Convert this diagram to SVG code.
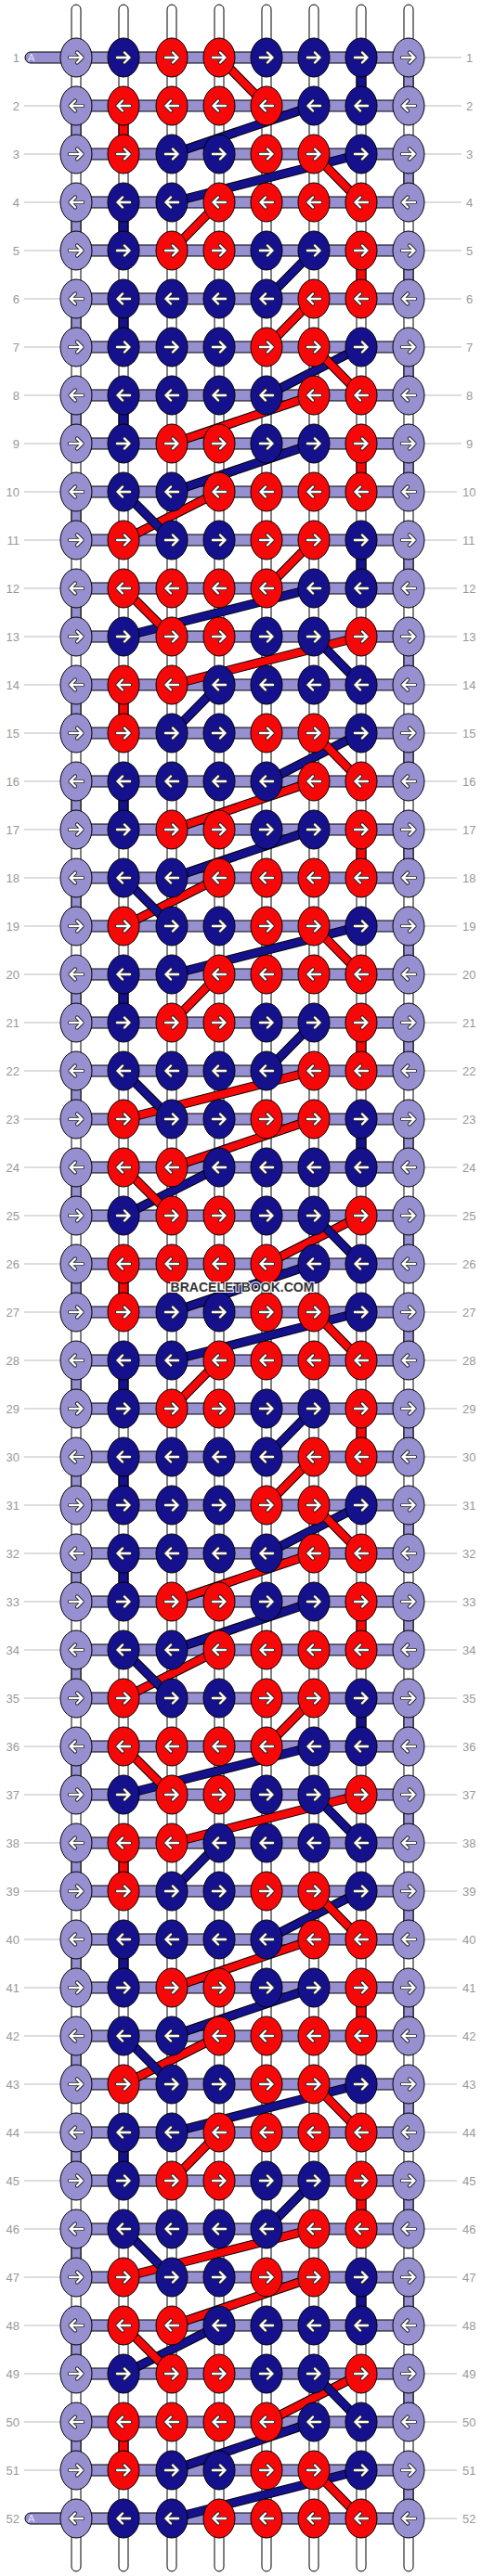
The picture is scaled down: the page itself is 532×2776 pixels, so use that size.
<svg xmlns="http://www.w3.org/2000/svg" xmlns:xlink="http://www.w3.org/1999/xlink" width="532" height="2776" viewBox="0 0 532 2776">
<style>
.st{fill:#fff;stroke:#000;stroke-width:1}
.sgs{stroke:#000;stroke-width:1}
.pL{fill:#968FD0}.pB{fill:#15118C}.pR{fill:#F70808}
.hb{fill:#968FD0;stroke:#000;stroke-width:1}
.o{stroke:#000;stroke-width:10;fill:none}
.b{stroke:#15118C;stroke-width:8;fill:none}
.r{stroke:#F70808;stroke-width:8;fill:none}
.gl{stroke:#bbb;stroke-width:1;fill:none}
.lb{font-family:"Liberation Sans",Arial,sans-serif;font-size:13px;fill:#999}
.kl{fill:#968FD0;stroke:#000;stroke-width:1}
.kb{fill:#15118C;stroke:#000;stroke-width:1}
.kr{fill:#F70808;stroke:#000;stroke-width:1}
.ao{fill:none;stroke:#222;stroke-width:4.2;stroke-linecap:round;stroke-linejoin:round}
.ai{fill:none;stroke:#fff;stroke-width:2.4;stroke-linecap:round;stroke-linejoin:round}
.wm{font-family:"Liberation Sans",Arial,sans-serif;font-size:14px;font-weight:bold;fill:#333;stroke:#fff;stroke-width:2;paint-order:stroke}
.al{font-family:"Liberation Sans",Arial,sans-serif;font-size:11px;fill:#e8e6ff}
</style>
<defs>
<path id="ar" d="M-7,0H6.5M1,-5.5L6.5,0L1,5.5"/>
<g id="aR"><use href="#ar" class="ao"/><use href="#ar" class="ai"/></g>
<g id="aL" transform="scale(-1,1)"><use href="#ar" class="ao"/><use href="#ar" class="ai"/></g>
<g id="Lr"><ellipse rx="17" ry="21" class="kl"/><use href="#aR"/></g>
<g id="Br"><ellipse rx="17" ry="21" class="kb"/><use href="#aR"/></g>
<g id="Rr"><ellipse rx="17" ry="21" class="kr"/><use href="#aR"/></g>
<g id="Ll"><ellipse rx="17" ry="21" class="kl"/><use href="#aL"/></g>
<g id="Bl"><ellipse rx="17" ry="21" class="kb"/><use href="#aL"/></g>
<g id="Rl"><ellipse rx="17" ry="21" class="kr"/><use href="#aL"/></g>
<rect id="sg" x="-5" y="0" width="10" height="16" class="sgs"/>
<rect id="hb" x="82" y="-6" width="358" height="12" class="hb"/>
</defs>

<g id="strings">
<rect class="st" x="77" y="5" width="10" height="2766" rx="5"/>
<rect class="st" x="128" y="5" width="10" height="2766" rx="5"/>
<rect class="st" x="180" y="5" width="10" height="2766" rx="5"/>
<rect class="st" x="231" y="5" width="10" height="2766" rx="5"/>
<rect class="st" x="282" y="5" width="10" height="2766" rx="5"/>
<rect class="st" x="333" y="5" width="10" height="2766" rx="5"/>
<rect class="st" x="384" y="5" width="10" height="2766" rx="5"/>
<rect class="st" x="435" y="5" width="10" height="2766" rx="5"/>
</g>

<g id="segments">
<use href="#sg" class="pL" x="82" y="132"/><use href="#sg" class="pL" x="82" y="236"/><use href="#sg" class="pL" x="82" y="340"/><use href="#sg" class="pL" x="82" y="444"/><use href="#sg" class="pL" x="82" y="548"/><use href="#sg" class="pL" x="82" y="652"/><use href="#sg" class="pL" x="82" y="756"/><use href="#sg" class="pL" x="82" y="860"/><use href="#sg" class="pL" x="82" y="964"/><use href="#sg" class="pL" x="82" y="1068"/><use href="#sg" class="pL" x="82" y="1172"/><use href="#sg" class="pL" x="82" y="1276"/><use href="#sg" class="pL" x="82" y="1380"/><use href="#sg" class="pL" x="82" y="1484"/><use href="#sg" class="pL" x="82" y="1588"/><use href="#sg" class="pL" x="82" y="1692"/><use href="#sg" class="pL" x="82" y="1796"/><use href="#sg" class="pL" x="82" y="1900"/><use href="#sg" class="pL" x="82" y="2004"/><use href="#sg" class="pL" x="82" y="2108"/><use href="#sg" class="pL" x="82" y="2212"/><use href="#sg" class="pL" x="82" y="2316"/><use href="#sg" class="pL" x="82" y="2420"/><use href="#sg" class="pL" x="82" y="2524"/><use href="#sg" class="pL" x="82" y="2628"/>
<use href="#sg" class="pL" x="440" y="80"/><use href="#sg" class="pL" x="440" y="184"/><use href="#sg" class="pL" x="440" y="288"/><use href="#sg" class="pL" x="440" y="392"/><use href="#sg" class="pL" x="440" y="496"/><use href="#sg" class="pL" x="440" y="600"/><use href="#sg" class="pL" x="440" y="704"/><use href="#sg" class="pL" x="440" y="808"/><use href="#sg" class="pL" x="440" y="912"/><use href="#sg" class="pL" x="440" y="1016"/><use href="#sg" class="pL" x="440" y="1120"/><use href="#sg" class="pL" x="440" y="1224"/><use href="#sg" class="pL" x="440" y="1328"/><use href="#sg" class="pL" x="440" y="1432"/><use href="#sg" class="pL" x="440" y="1536"/><use href="#sg" class="pL" x="440" y="1640"/><use href="#sg" class="pL" x="440" y="1744"/><use href="#sg" class="pL" x="440" y="1848"/><use href="#sg" class="pL" x="440" y="1952"/><use href="#sg" class="pL" x="440" y="2056"/><use href="#sg" class="pL" x="440" y="2160"/><use href="#sg" class="pL" x="440" y="2264"/><use href="#sg" class="pL" x="440" y="2368"/><use href="#sg" class="pL" x="440" y="2472"/><use href="#sg" class="pL" x="440" y="2576"/><use href="#sg" class="pL" x="440" y="2680"/>
<use href="#sg" class="pR" x="133" y="132"/><use href="#sg" class="pB" x="133" y="236"/><use href="#sg" class="pB" x="133" y="340"/><use href="#sg" class="pB" x="133" y="444"/><use href="#sg" class="pR" x="133" y="756"/><use href="#sg" class="pB" x="133" y="860"/><use href="#sg" class="pB" x="133" y="1068"/><use href="#sg" class="pR" x="133" y="1380"/><use href="#sg" class="pB" x="133" y="1484"/><use href="#sg" class="pB" x="133" y="1588"/><use href="#sg" class="pB" x="133" y="1692"/><use href="#sg" class="pR" x="133" y="2004"/><use href="#sg" class="pB" x="133" y="2108"/><use href="#sg" class="pB" x="133" y="2316"/><use href="#sg" class="pR" x="133" y="2628"/>
<use href="#sg" class="pB" x="389" y="80"/><use href="#sg" class="pR" x="389" y="288"/><use href="#sg" class="pR" x="389" y="496"/><use href="#sg" class="pB" x="389" y="600"/><use href="#sg" class="pR" x="389" y="912"/><use href="#sg" class="pR" x="389" y="1120"/><use href="#sg" class="pB" x="389" y="1224"/><use href="#sg" class="pR" x="389" y="1536"/><use href="#sg" class="pR" x="389" y="1744"/><use href="#sg" class="pB" x="389" y="1848"/><use href="#sg" class="pR" x="389" y="2160"/><use href="#sg" class="pR" x="389" y="2368"/><use href="#sg" class="pB" x="389" y="2472"/>
</g>

<g id="guides">
<path class="gl" d="M26,114H65M26,166H65M26,218H65M26,270H65M26,322H65M26,374H65M26,426H65M26,478H65M26,530H65M26,582H65M26,634H65M26,686H65M26,738H65M26,790H65M26,842H65M26,894H65M26,946H65M26,998H65M26,1050H65M26,1102H65M26,1154H65M26,1206H65M26,1258H65M26,1310H65M26,1362H65M26,1414H65M26,1466H65M26,1518H65M26,1570H65M26,1622H65M26,1674H65M26,1726H65M26,1778H65M26,1830H65M26,1882H65M26,1934H65M26,1986H65M26,2038H65M26,2090H65M26,2142H65M26,2194H65M26,2246H65M26,2298H65M26,2350H65M26,2402H65M26,2454H65M26,2506H65M26,2558H65M26,2610H65M26,2662H65"/>
<path class="gl" d="M457,62H497M457,114H497M457,166H497M457,218H497M457,270H497M457,322H497M457,374H497M457,426H497M457,478H497M457,530H492M457,582H492M457,634H492M457,686H492M457,738H492M457,790H492M457,842H492M457,894H492M457,946H492M457,998H492M457,1050H492M457,1102H492M457,1154H492M457,1206H492M457,1258H492M457,1310H492M457,1362H492M457,1414H492M457,1466H492M457,1518H492M457,1570H492M457,1622H492M457,1674H492M457,1726H492M457,1778H492M457,1830H492M457,1882H492M457,1934H492M457,1986H492M457,2038H492M457,2090H492M457,2142H492M457,2194H492M457,2246H492M457,2298H492M457,2350H492M457,2402H492M457,2454H492M457,2506H492M457,2558H492M457,2610H492M457,2662H492M457,2714H492"/>
</g>

<g id="carrier">
<rect x="27" y="56" width="413" height="12" rx="6" class="hb"/>
<use href="#hb" y="114"/><use href="#hb" y="166"/><use href="#hb" y="218"/><use href="#hb" y="270"/><use href="#hb" y="322"/><use href="#hb" y="374"/><use href="#hb" y="426"/><use href="#hb" y="478"/><use href="#hb" y="530"/><use href="#hb" y="582"/><use href="#hb" y="634"/><use href="#hb" y="686"/><use href="#hb" y="738"/><use href="#hb" y="790"/><use href="#hb" y="842"/><use href="#hb" y="894"/><use href="#hb" y="946"/><use href="#hb" y="998"/><use href="#hb" y="1050"/><use href="#hb" y="1102"/><use href="#hb" y="1154"/><use href="#hb" y="1206"/><use href="#hb" y="1258"/><use href="#hb" y="1310"/><use href="#hb" y="1362"/><use href="#hb" y="1414"/><use href="#hb" y="1466"/><use href="#hb" y="1518"/><use href="#hb" y="1570"/><use href="#hb" y="1622"/><use href="#hb" y="1674"/><use href="#hb" y="1726"/><use href="#hb" y="1778"/><use href="#hb" y="1830"/><use href="#hb" y="1882"/><use href="#hb" y="1934"/><use href="#hb" y="1986"/><use href="#hb" y="2038"/><use href="#hb" y="2090"/><use href="#hb" y="2142"/><use href="#hb" y="2194"/><use href="#hb" y="2246"/><use href="#hb" y="2298"/><use href="#hb" y="2350"/><use href="#hb" y="2402"/><use href="#hb" y="2454"/><use href="#hb" y="2506"/><use href="#hb" y="2558"/><use href="#hb" y="2610"/><use href="#hb" y="2662"/>
<rect x="27" y="2708" width="413" height="12" rx="6" class="hb"/>
<text class="al" x="30" y="66">A</text>
<text class="al" x="30" y="2718">A</text>
</g>

<g id="connectors">
<path class="o" d="M236,62L287,114"/><path class="r" d="M236,62L287,114"/>
<path class="o" d="M338,114L185,166"/><path class="b" d="M338,114L185,166"/>
<path class="o" d="M389,166L185,218"/><path class="b" d="M389,166L185,218"/>
<path class="o" d="M338,166L389,218"/><path class="r" d="M338,166L389,218"/>
<path class="o" d="M236,218L185,270"/><path class="r" d="M236,218L185,270"/>
<path class="o" d="M338,270L287,322"/><path class="b" d="M338,270L287,322"/>
<path class="o" d="M338,322L287,374"/><path class="r" d="M338,322L287,374"/>
<path class="o" d="M389,374L287,426"/><path class="b" d="M389,374L287,426"/>
<path class="o" d="M338,374L389,426"/><path class="r" d="M338,374L389,426"/>
<path class="o" d="M338,426L185,478"/><path class="r" d="M338,426L185,478"/>
<path class="o" d="M338,478L185,530"/><path class="b" d="M338,478L185,530"/>
<path class="o" d="M236,530L133,582"/><path class="r" d="M236,530L133,582"/>
<path class="o" d="M133,530L185,582"/><path class="b" d="M133,530L185,582"/>
<path class="o" d="M338,582L287,634"/><path class="r" d="M338,582L287,634"/>
<path class="o" d="M338,634L133,686"/><path class="b" d="M338,634L133,686"/>
<path class="o" d="M133,634L185,686"/><path class="r" d="M133,634L185,686"/>
<path class="o" d="M389,686L185,738"/><path class="r" d="M389,686L185,738"/>
<path class="o" d="M338,686L389,738"/><path class="b" d="M338,686L389,738"/>
<path class="o" d="M236,738L185,790"/><path class="b" d="M236,738L185,790"/>
<path class="o" d="M389,790L287,842"/><path class="b" d="M389,790L287,842"/>
<path class="o" d="M338,790L389,842"/><path class="r" d="M338,790L389,842"/>
<path class="o" d="M338,842L185,894"/><path class="r" d="M338,842L185,894"/>
<path class="o" d="M338,894L185,946"/><path class="b" d="M338,894L185,946"/>
<path class="o" d="M236,946L133,998"/><path class="r" d="M236,946L133,998"/>
<path class="o" d="M133,946L185,998"/><path class="b" d="M133,946L185,998"/>
<path class="o" d="M389,998L185,1050"/><path class="b" d="M389,998L185,1050"/>
<path class="o" d="M338,998L389,1050"/><path class="r" d="M338,998L389,1050"/>
<path class="o" d="M236,1050L185,1102"/><path class="r" d="M236,1050L185,1102"/>
<path class="o" d="M338,1102L287,1154"/><path class="b" d="M338,1102L287,1154"/>
<path class="o" d="M338,1154L133,1206"/><path class="r" d="M338,1154L133,1206"/>
<path class="o" d="M133,1154L185,1206"/><path class="b" d="M133,1154L185,1206"/>
<path class="o" d="M338,1206L185,1258"/><path class="r" d="M338,1206L185,1258"/>
<path class="o" d="M236,1258L133,1310"/><path class="b" d="M236,1258L133,1310"/>
<path class="o" d="M133,1258L185,1310"/><path class="r" d="M133,1258L185,1310"/>
<path class="o" d="M389,1310L287,1362"/><path class="r" d="M389,1310L287,1362"/>
<path class="o" d="M338,1310L389,1362"/><path class="b" d="M338,1310L389,1362"/>
<path class="o" d="M338,1362L185,1414"/><path class="b" d="M338,1362L185,1414"/>
<path class="o" d="M389,1414L185,1466"/><path class="b" d="M389,1414L185,1466"/>
<path class="o" d="M338,1414L389,1466"/><path class="r" d="M338,1414L389,1466"/>
<path class="o" d="M236,1466L185,1518"/><path class="r" d="M236,1466L185,1518"/>
<path class="o" d="M338,1518L287,1570"/><path class="b" d="M338,1518L287,1570"/>
<path class="o" d="M338,1570L287,1622"/><path class="r" d="M338,1570L287,1622"/>
<path class="o" d="M389,1622L287,1674"/><path class="b" d="M389,1622L287,1674"/>
<path class="o" d="M338,1622L389,1674"/><path class="r" d="M338,1622L389,1674"/>
<path class="o" d="M338,1674L185,1726"/><path class="r" d="M338,1674L185,1726"/>
<path class="o" d="M338,1726L185,1778"/><path class="b" d="M338,1726L185,1778"/>
<path class="o" d="M236,1778L133,1830"/><path class="r" d="M236,1778L133,1830"/>
<path class="o" d="M133,1778L185,1830"/><path class="b" d="M133,1778L185,1830"/>
<path class="o" d="M338,1830L287,1882"/><path class="r" d="M338,1830L287,1882"/>
<path class="o" d="M338,1882L133,1934"/><path class="b" d="M338,1882L133,1934"/>
<path class="o" d="M133,1882L185,1934"/><path class="r" d="M133,1882L185,1934"/>
<path class="o" d="M389,1934L185,1986"/><path class="r" d="M389,1934L185,1986"/>
<path class="o" d="M338,1934L389,1986"/><path class="b" d="M338,1934L389,1986"/>
<path class="o" d="M236,1986L185,2038"/><path class="b" d="M236,1986L185,2038"/>
<path class="o" d="M389,2038L287,2090"/><path class="b" d="M389,2038L287,2090"/>
<path class="o" d="M338,2038L389,2090"/><path class="r" d="M338,2038L389,2090"/>
<path class="o" d="M338,2090L185,2142"/><path class="r" d="M338,2090L185,2142"/>
<path class="o" d="M338,2142L185,2194"/><path class="b" d="M338,2142L185,2194"/>
<path class="o" d="M236,2194L133,2246"/><path class="r" d="M236,2194L133,2246"/>
<path class="o" d="M133,2194L185,2246"/><path class="b" d="M133,2194L185,2246"/>
<path class="o" d="M389,2246L185,2298"/><path class="b" d="M389,2246L185,2298"/>
<path class="o" d="M338,2246L389,2298"/><path class="r" d="M338,2246L389,2298"/>
<path class="o" d="M236,2298L185,2350"/><path class="r" d="M236,2298L185,2350"/>
<path class="o" d="M338,2350L287,2402"/><path class="b" d="M338,2350L287,2402"/>
<path class="o" d="M338,2402L133,2454"/><path class="r" d="M338,2402L133,2454"/>
<path class="o" d="M133,2402L185,2454"/><path class="b" d="M133,2402L185,2454"/>
<path class="o" d="M338,2454L185,2506"/><path class="r" d="M338,2454L185,2506"/>
<path class="o" d="M236,2506L133,2558"/><path class="b" d="M236,2506L133,2558"/>
<path class="o" d="M133,2506L185,2558"/><path class="r" d="M133,2506L185,2558"/>
<path class="o" d="M389,2558L287,2610"/><path class="r" d="M389,2558L287,2610"/>
<path class="o" d="M338,2558L389,2610"/><path class="b" d="M338,2558L389,2610"/>
<path class="o" d="M338,2610L185,2662"/><path class="b" d="M338,2610L185,2662"/>
<path class="o" d="M389,2662L185,2714"/><path class="b" d="M389,2662L185,2714"/>
<path class="o" d="M338,2662L389,2714"/><path class="r" d="M338,2662L389,2714"/>
</g>

<g id="knots">
<g id="row1" transform="translate(0,62)"><use id="k1_0" href="#Lr" x="82"/><use id="k1_1" href="#Br" x="133"/><use id="k1_2" href="#Rr" x="185"/><use id="k1_3" href="#Rr" x="236"/><use id="k1_4" href="#Br" x="287"/><use id="k1_5" href="#Br" x="338"/><use id="k1_6" href="#Br" x="389"/><use id="k1_7" href="#Lr" x="440"/></g>
<g id="row2" transform="translate(0,114)"><use id="k2_0" href="#Ll" x="82"/><use id="k2_1" href="#Rl" x="133"/><use id="k2_2" href="#Rl" x="185"/><use id="k2_3" href="#Rl" x="236"/><use id="k2_4" href="#Rl" x="287"/><use id="k2_5" href="#Bl" x="338"/><use id="k2_6" href="#Bl" x="389"/><use id="k2_7" href="#Ll" x="440"/></g>
<g id="row3" transform="translate(0,166)"><use id="k3_0" href="#Lr" x="82"/><use id="k3_1" href="#Rr" x="133"/><use id="k3_2" href="#Br" x="185"/><use id="k3_3" href="#Br" x="236"/><use id="k3_4" href="#Rr" x="287"/><use id="k3_5" href="#Rr" x="338"/><use id="k3_6" href="#Br" x="389"/><use id="k3_7" href="#Lr" x="440"/></g>
<g id="row4" transform="translate(0,218)"><use id="k4_0" href="#Ll" x="82"/><use id="k4_1" href="#Bl" x="133"/><use id="k4_2" href="#Bl" x="185"/><use id="k4_3" href="#Rl" x="236"/><use id="k4_4" href="#Rl" x="287"/><use id="k4_5" href="#Rl" x="338"/><use id="k4_6" href="#Rl" x="389"/><use id="k4_7" href="#Ll" x="440"/></g>
<g id="row5" transform="translate(0,270)"><use id="k5_0" href="#Lr" x="82"/><use id="k5_1" href="#Br" x="133"/><use id="k5_2" href="#Rr" x="185"/><use id="k5_3" href="#Rr" x="236"/><use id="k5_4" href="#Br" x="287"/><use id="k5_5" href="#Br" x="338"/><use id="k5_6" href="#Rr" x="389"/><use id="k5_7" href="#Lr" x="440"/></g>
<g id="row6" transform="translate(0,322)"><use id="k6_0" href="#Ll" x="82"/><use id="k6_1" href="#Bl" x="133"/><use id="k6_2" href="#Bl" x="185"/><use id="k6_3" href="#Bl" x="236"/><use id="k6_4" href="#Bl" x="287"/><use id="k6_5" href="#Rl" x="338"/><use id="k6_6" href="#Rl" x="389"/><use id="k6_7" href="#Ll" x="440"/></g>
<g id="row7" transform="translate(0,374)"><use id="k7_0" href="#Lr" x="82"/><use id="k7_1" href="#Br" x="133"/><use id="k7_2" href="#Br" x="185"/><use id="k7_3" href="#Br" x="236"/><use id="k7_4" href="#Rr" x="287"/><use id="k7_5" href="#Rr" x="338"/><use id="k7_6" href="#Br" x="389"/><use id="k7_7" href="#Lr" x="440"/></g>
<g id="row8" transform="translate(0,426)"><use id="k8_0" href="#Ll" x="82"/><use id="k8_1" href="#Bl" x="133"/><use id="k8_2" href="#Bl" x="185"/><use id="k8_3" href="#Bl" x="236"/><use id="k8_4" href="#Bl" x="287"/><use id="k8_5" href="#Rl" x="338"/><use id="k8_6" href="#Rl" x="389"/><use id="k8_7" href="#Ll" x="440"/></g>
<g id="row9" transform="translate(0,478)"><use id="k9_0" href="#Lr" x="82"/><use id="k9_1" href="#Br" x="133"/><use id="k9_2" href="#Rr" x="185"/><use id="k9_3" href="#Rr" x="236"/><use id="k9_4" href="#Br" x="287"/><use id="k9_5" href="#Br" x="338"/><use id="k9_6" href="#Rr" x="389"/><use id="k9_7" href="#Lr" x="440"/></g>
<g id="row10" transform="translate(0,530)"><use id="k10_0" href="#Ll" x="82"/><use id="k10_1" href="#Bl" x="133"/><use id="k10_2" href="#Bl" x="185"/><use id="k10_3" href="#Rl" x="236"/><use id="k10_4" href="#Rl" x="287"/><use id="k10_5" href="#Rl" x="338"/><use id="k10_6" href="#Rl" x="389"/><use id="k10_7" href="#Ll" x="440"/></g>
<g id="row11" transform="translate(0,582)"><use id="k11_0" href="#Lr" x="82"/><use id="k11_1" href="#Rr" x="133"/><use id="k11_2" href="#Br" x="185"/><use id="k11_3" href="#Br" x="236"/><use id="k11_4" href="#Rr" x="287"/><use id="k11_5" href="#Rr" x="338"/><use id="k11_6" href="#Br" x="389"/><use id="k11_7" href="#Lr" x="440"/></g>
<g id="row12" transform="translate(0,634)"><use id="k12_0" href="#Ll" x="82"/><use id="k12_1" href="#Rl" x="133"/><use id="k12_2" href="#Rl" x="185"/><use id="k12_3" href="#Rl" x="236"/><use id="k12_4" href="#Rl" x="287"/><use id="k12_5" href="#Bl" x="338"/><use id="k12_6" href="#Bl" x="389"/><use id="k12_7" href="#Ll" x="440"/></g>
<g id="row13" transform="translate(0,686)"><use id="k13_0" href="#Lr" x="82"/><use id="k13_1" href="#Br" x="133"/><use id="k13_2" href="#Rr" x="185"/><use id="k13_3" href="#Rr" x="236"/><use id="k13_4" href="#Br" x="287"/><use id="k13_5" href="#Br" x="338"/><use id="k13_6" href="#Rr" x="389"/><use id="k13_7" href="#Lr" x="440"/></g>
<g id="row14" transform="translate(0,738)"><use id="k14_0" href="#Ll" x="82"/><use id="k14_1" href="#Rl" x="133"/><use id="k14_2" href="#Rl" x="185"/><use id="k14_3" href="#Bl" x="236"/><use id="k14_4" href="#Bl" x="287"/><use id="k14_5" href="#Bl" x="338"/><use id="k14_6" href="#Bl" x="389"/><use id="k14_7" href="#Ll" x="440"/></g>
<g id="row15" transform="translate(0,790)"><use id="k15_0" href="#Lr" x="82"/><use id="k15_1" href="#Rr" x="133"/><use id="k15_2" href="#Br" x="185"/><use id="k15_3" href="#Br" x="236"/><use id="k15_4" href="#Rr" x="287"/><use id="k15_5" href="#Rr" x="338"/><use id="k15_6" href="#Br" x="389"/><use id="k15_7" href="#Lr" x="440"/></g>
<g id="row16" transform="translate(0,842)"><use id="k16_0" href="#Ll" x="82"/><use id="k16_1" href="#Bl" x="133"/><use id="k16_2" href="#Bl" x="185"/><use id="k16_3" href="#Bl" x="236"/><use id="k16_4" href="#Bl" x="287"/><use id="k16_5" href="#Rl" x="338"/><use id="k16_6" href="#Rl" x="389"/><use id="k16_7" href="#Ll" x="440"/></g>
<g id="row17" transform="translate(0,894)"><use id="k17_0" href="#Lr" x="82"/><use id="k17_1" href="#Br" x="133"/><use id="k17_2" href="#Rr" x="185"/><use id="k17_3" href="#Rr" x="236"/><use id="k17_4" href="#Br" x="287"/><use id="k17_5" href="#Br" x="338"/><use id="k17_6" href="#Rr" x="389"/><use id="k17_7" href="#Lr" x="440"/></g>
<g id="row18" transform="translate(0,946)"><use id="k18_0" href="#Ll" x="82"/><use id="k18_1" href="#Bl" x="133"/><use id="k18_2" href="#Bl" x="185"/><use id="k18_3" href="#Rl" x="236"/><use id="k18_4" href="#Rl" x="287"/><use id="k18_5" href="#Rl" x="338"/><use id="k18_6" href="#Rl" x="389"/><use id="k18_7" href="#Ll" x="440"/></g>
<g id="row19" transform="translate(0,998)"><use id="k19_0" href="#Lr" x="82"/><use id="k19_1" href="#Rr" x="133"/><use id="k19_2" href="#Br" x="185"/><use id="k19_3" href="#Br" x="236"/><use id="k19_4" href="#Rr" x="287"/><use id="k19_5" href="#Rr" x="338"/><use id="k19_6" href="#Br" x="389"/><use id="k19_7" href="#Lr" x="440"/></g>
<g id="row20" transform="translate(0,1050)"><use id="k20_0" href="#Ll" x="82"/><use id="k20_1" href="#Bl" x="133"/><use id="k20_2" href="#Bl" x="185"/><use id="k20_3" href="#Rl" x="236"/><use id="k20_4" href="#Rl" x="287"/><use id="k20_5" href="#Rl" x="338"/><use id="k20_6" href="#Rl" x="389"/><use id="k20_7" href="#Ll" x="440"/></g>
<g id="row21" transform="translate(0,1102)"><use id="k21_0" href="#Lr" x="82"/><use id="k21_1" href="#Br" x="133"/><use id="k21_2" href="#Rr" x="185"/><use id="k21_3" href="#Rr" x="236"/><use id="k21_4" href="#Br" x="287"/><use id="k21_5" href="#Br" x="338"/><use id="k21_6" href="#Rr" x="389"/><use id="k21_7" href="#Lr" x="440"/></g>
<g id="row22" transform="translate(0,1154)"><use id="k22_0" href="#Ll" x="82"/><use id="k22_1" href="#Bl" x="133"/><use id="k22_2" href="#Bl" x="185"/><use id="k22_3" href="#Bl" x="236"/><use id="k22_4" href="#Bl" x="287"/><use id="k22_5" href="#Rl" x="338"/><use id="k22_6" href="#Rl" x="389"/><use id="k22_7" href="#Ll" x="440"/></g>
<g id="row23" transform="translate(0,1206)"><use id="k23_0" href="#Lr" x="82"/><use id="k23_1" href="#Rr" x="133"/><use id="k23_2" href="#Br" x="185"/><use id="k23_3" href="#Br" x="236"/><use id="k23_4" href="#Rr" x="287"/><use id="k23_5" href="#Rr" x="338"/><use id="k23_6" href="#Br" x="389"/><use id="k23_7" href="#Lr" x="440"/></g>
<g id="row24" transform="translate(0,1258)"><use id="k24_0" href="#Ll" x="82"/><use id="k24_1" href="#Rl" x="133"/><use id="k24_2" href="#Rl" x="185"/><use id="k24_3" href="#Bl" x="236"/><use id="k24_4" href="#Bl" x="287"/><use id="k24_5" href="#Bl" x="338"/><use id="k24_6" href="#Bl" x="389"/><use id="k24_7" href="#Ll" x="440"/></g>
<g id="row25" transform="translate(0,1310)"><use id="k25_0" href="#Lr" x="82"/><use id="k25_1" href="#Br" x="133"/><use id="k25_2" href="#Rr" x="185"/><use id="k25_3" href="#Rr" x="236"/><use id="k25_4" href="#Br" x="287"/><use id="k25_5" href="#Br" x="338"/><use id="k25_6" href="#Rr" x="389"/><use id="k25_7" href="#Lr" x="440"/></g>
<g id="row26" transform="translate(0,1362)"><use id="k26_0" href="#Ll" x="82"/><use id="k26_1" href="#Rl" x="133"/><use id="k26_2" href="#Rl" x="185"/><use id="k26_3" href="#Rl" x="236"/><use id="k26_4" href="#Rl" x="287"/><use id="k26_5" href="#Bl" x="338"/><use id="k26_6" href="#Bl" x="389"/><use id="k26_7" href="#Ll" x="440"/></g>
<g id="row27" transform="translate(0,1414)"><use id="k27_0" href="#Lr" x="82"/><use id="k27_1" href="#Rr" x="133"/><use id="k27_2" href="#Br" x="185"/><use id="k27_3" href="#Br" x="236"/><use id="k27_4" href="#Rr" x="287"/><use id="k27_5" href="#Rr" x="338"/><use id="k27_6" href="#Br" x="389"/><use id="k27_7" href="#Lr" x="440"/></g>
<g id="row28" transform="translate(0,1466)"><use id="k28_0" href="#Ll" x="82"/><use id="k28_1" href="#Bl" x="133"/><use id="k28_2" href="#Bl" x="185"/><use id="k28_3" href="#Rl" x="236"/><use id="k28_4" href="#Rl" x="287"/><use id="k28_5" href="#Rl" x="338"/><use id="k28_6" href="#Rl" x="389"/><use id="k28_7" href="#Ll" x="440"/></g>
<g id="row29" transform="translate(0,1518)"><use id="k29_0" href="#Lr" x="82"/><use id="k29_1" href="#Br" x="133"/><use id="k29_2" href="#Rr" x="185"/><use id="k29_3" href="#Rr" x="236"/><use id="k29_4" href="#Br" x="287"/><use id="k29_5" href="#Br" x="338"/><use id="k29_6" href="#Rr" x="389"/><use id="k29_7" href="#Lr" x="440"/></g>
<g id="row30" transform="translate(0,1570)"><use id="k30_0" href="#Ll" x="82"/><use id="k30_1" href="#Bl" x="133"/><use id="k30_2" href="#Bl" x="185"/><use id="k30_3" href="#Bl" x="236"/><use id="k30_4" href="#Bl" x="287"/><use id="k30_5" href="#Rl" x="338"/><use id="k30_6" href="#Rl" x="389"/><use id="k30_7" href="#Ll" x="440"/></g>
<g id="row31" transform="translate(0,1622)"><use id="k31_0" href="#Lr" x="82"/><use id="k31_1" href="#Br" x="133"/><use id="k31_2" href="#Br" x="185"/><use id="k31_3" href="#Br" x="236"/><use id="k31_4" href="#Rr" x="287"/><use id="k31_5" href="#Rr" x="338"/><use id="k31_6" href="#Br" x="389"/><use id="k31_7" href="#Lr" x="440"/></g>
<g id="row32" transform="translate(0,1674)"><use id="k32_0" href="#Ll" x="82"/><use id="k32_1" href="#Bl" x="133"/><use id="k32_2" href="#Bl" x="185"/><use id="k32_3" href="#Bl" x="236"/><use id="k32_4" href="#Bl" x="287"/><use id="k32_5" href="#Rl" x="338"/><use id="k32_6" href="#Rl" x="389"/><use id="k32_7" href="#Ll" x="440"/></g>
<g id="row33" transform="translate(0,1726)"><use id="k33_0" href="#Lr" x="82"/><use id="k33_1" href="#Br" x="133"/><use id="k33_2" href="#Rr" x="185"/><use id="k33_3" href="#Rr" x="236"/><use id="k33_4" href="#Br" x="287"/><use id="k33_5" href="#Br" x="338"/><use id="k33_6" href="#Rr" x="389"/><use id="k33_7" href="#Lr" x="440"/></g>
<g id="row34" transform="translate(0,1778)"><use id="k34_0" href="#Ll" x="82"/><use id="k34_1" href="#Bl" x="133"/><use id="k34_2" href="#Bl" x="185"/><use id="k34_3" href="#Rl" x="236"/><use id="k34_4" href="#Rl" x="287"/><use id="k34_5" href="#Rl" x="338"/><use id="k34_6" href="#Rl" x="389"/><use id="k34_7" href="#Ll" x="440"/></g>
<g id="row35" transform="translate(0,1830)"><use id="k35_0" href="#Lr" x="82"/><use id="k35_1" href="#Rr" x="133"/><use id="k35_2" href="#Br" x="185"/><use id="k35_3" href="#Br" x="236"/><use id="k35_4" href="#Rr" x="287"/><use id="k35_5" href="#Rr" x="338"/><use id="k35_6" href="#Br" x="389"/><use id="k35_7" href="#Lr" x="440"/></g>
<g id="row36" transform="translate(0,1882)"><use id="k36_0" href="#Ll" x="82"/><use id="k36_1" href="#Rl" x="133"/><use id="k36_2" href="#Rl" x="185"/><use id="k36_3" href="#Rl" x="236"/><use id="k36_4" href="#Rl" x="287"/><use id="k36_5" href="#Bl" x="338"/><use id="k36_6" href="#Bl" x="389"/><use id="k36_7" href="#Ll" x="440"/></g>
<g id="row37" transform="translate(0,1934)"><use id="k37_0" href="#Lr" x="82"/><use id="k37_1" href="#Br" x="133"/><use id="k37_2" href="#Rr" x="185"/><use id="k37_3" href="#Rr" x="236"/><use id="k37_4" href="#Br" x="287"/><use id="k37_5" href="#Br" x="338"/><use id="k37_6" href="#Rr" x="389"/><use id="k37_7" href="#Lr" x="440"/></g>
<g id="row38" transform="translate(0,1986)"><use id="k38_0" href="#Ll" x="82"/><use id="k38_1" href="#Rl" x="133"/><use id="k38_2" href="#Rl" x="185"/><use id="k38_3" href="#Bl" x="236"/><use id="k38_4" href="#Bl" x="287"/><use id="k38_5" href="#Bl" x="338"/><use id="k38_6" href="#Bl" x="389"/><use id="k38_7" href="#Ll" x="440"/></g>
<g id="row39" transform="translate(0,2038)"><use id="k39_0" href="#Lr" x="82"/><use id="k39_1" href="#Rr" x="133"/><use id="k39_2" href="#Br" x="185"/><use id="k39_3" href="#Br" x="236"/><use id="k39_4" href="#Rr" x="287"/><use id="k39_5" href="#Rr" x="338"/><use id="k39_6" href="#Br" x="389"/><use id="k39_7" href="#Lr" x="440"/></g>
<g id="row40" transform="translate(0,2090)"><use id="k40_0" href="#Ll" x="82"/><use id="k40_1" href="#Bl" x="133"/><use id="k40_2" href="#Bl" x="185"/><use id="k40_3" href="#Bl" x="236"/><use id="k40_4" href="#Bl" x="287"/><use id="k40_5" href="#Rl" x="338"/><use id="k40_6" href="#Rl" x="389"/><use id="k40_7" href="#Ll" x="440"/></g>
<g id="row41" transform="translate(0,2142)"><use id="k41_0" href="#Lr" x="82"/><use id="k41_1" href="#Br" x="133"/><use id="k41_2" href="#Rr" x="185"/><use id="k41_3" href="#Rr" x="236"/><use id="k41_4" href="#Br" x="287"/><use id="k41_5" href="#Br" x="338"/><use id="k41_6" href="#Rr" x="389"/><use id="k41_7" href="#Lr" x="440"/></g>
<g id="row42" transform="translate(0,2194)"><use id="k42_0" href="#Ll" x="82"/><use id="k42_1" href="#Bl" x="133"/><use id="k42_2" href="#Bl" x="185"/><use id="k42_3" href="#Rl" x="236"/><use id="k42_4" href="#Rl" x="287"/><use id="k42_5" href="#Rl" x="338"/><use id="k42_6" href="#Rl" x="389"/><use id="k42_7" href="#Ll" x="440"/></g>
<g id="row43" transform="translate(0,2246)"><use id="k43_0" href="#Lr" x="82"/><use id="k43_1" href="#Rr" x="133"/><use id="k43_2" href="#Br" x="185"/><use id="k43_3" href="#Br" x="236"/><use id="k43_4" href="#Rr" x="287"/><use id="k43_5" href="#Rr" x="338"/><use id="k43_6" href="#Br" x="389"/><use id="k43_7" href="#Lr" x="440"/></g>
<g id="row44" transform="translate(0,2298)"><use id="k44_0" href="#Ll" x="82"/><use id="k44_1" href="#Bl" x="133"/><use id="k44_2" href="#Bl" x="185"/><use id="k44_3" href="#Rl" x="236"/><use id="k44_4" href="#Rl" x="287"/><use id="k44_5" href="#Rl" x="338"/><use id="k44_6" href="#Rl" x="389"/><use id="k44_7" href="#Ll" x="440"/></g>
<g id="row45" transform="translate(0,2350)"><use id="k45_0" href="#Lr" x="82"/><use id="k45_1" href="#Br" x="133"/><use id="k45_2" href="#Rr" x="185"/><use id="k45_3" href="#Rr" x="236"/><use id="k45_4" href="#Br" x="287"/><use id="k45_5" href="#Br" x="338"/><use id="k45_6" href="#Rr" x="389"/><use id="k45_7" href="#Lr" x="440"/></g>
<g id="row46" transform="translate(0,2402)"><use id="k46_0" href="#Ll" x="82"/><use id="k46_1" href="#Bl" x="133"/><use id="k46_2" href="#Bl" x="185"/><use id="k46_3" href="#Bl" x="236"/><use id="k46_4" href="#Bl" x="287"/><use id="k46_5" href="#Rl" x="338"/><use id="k46_6" href="#Rl" x="389"/><use id="k46_7" href="#Ll" x="440"/></g>
<g id="row47" transform="translate(0,2454)"><use id="k47_0" href="#Lr" x="82"/><use id="k47_1" href="#Rr" x="133"/><use id="k47_2" href="#Br" x="185"/><use id="k47_3" href="#Br" x="236"/><use id="k47_4" href="#Rr" x="287"/><use id="k47_5" href="#Rr" x="338"/><use id="k47_6" href="#Br" x="389"/><use id="k47_7" href="#Lr" x="440"/></g>
<g id="row48" transform="translate(0,2506)"><use id="k48_0" href="#Ll" x="82"/><use id="k48_1" href="#Rl" x="133"/><use id="k48_2" href="#Rl" x="185"/><use id="k48_3" href="#Bl" x="236"/><use id="k48_4" href="#Bl" x="287"/><use id="k48_5" href="#Bl" x="338"/><use id="k48_6" href="#Bl" x="389"/><use id="k48_7" href="#Ll" x="440"/></g>
<g id="row49" transform="translate(0,2558)"><use id="k49_0" href="#Lr" x="82"/><use id="k49_1" href="#Br" x="133"/><use id="k49_2" href="#Rr" x="185"/><use id="k49_3" href="#Rr" x="236"/><use id="k49_4" href="#Br" x="287"/><use id="k49_5" href="#Br" x="338"/><use id="k49_6" href="#Rr" x="389"/><use id="k49_7" href="#Lr" x="440"/></g>
<g id="row50" transform="translate(0,2610)"><use id="k50_0" href="#Ll" x="82"/><use id="k50_1" href="#Rl" x="133"/><use id="k50_2" href="#Rl" x="185"/><use id="k50_3" href="#Rl" x="236"/><use id="k50_4" href="#Rl" x="287"/><use id="k50_5" href="#Bl" x="338"/><use id="k50_6" href="#Bl" x="389"/><use id="k50_7" href="#Ll" x="440"/></g>
<g id="row51" transform="translate(0,2662)"><use id="k51_0" href="#Lr" x="82"/><use id="k51_1" href="#Rr" x="133"/><use id="k51_2" href="#Br" x="185"/><use id="k51_3" href="#Br" x="236"/><use id="k51_4" href="#Rr" x="287"/><use id="k51_5" href="#Rr" x="338"/><use id="k51_6" href="#Br" x="389"/><use id="k51_7" href="#Lr" x="440"/></g>
<g id="row52" transform="translate(0,2714)"><use id="k52_0" href="#Ll" x="82"/><use id="k52_1" href="#Bl" x="133"/><use id="k52_2" href="#Bl" x="185"/><use id="k52_3" href="#Rl" x="236"/><use id="k52_4" href="#Rl" x="287"/><use id="k52_5" href="#Rl" x="338"/><use id="k52_6" href="#Rl" x="389"/><use id="k52_7" href="#Ll" x="440"/></g>
</g>

<g id="labels" class="lb">
<g text-anchor="end">
<text x="21" y="66.6">1</text><text x="21" y="118.6">2</text><text x="21" y="170.6">3</text><text x="21" y="222.6">4</text><text x="21" y="274.6">5</text><text x="21" y="326.6">6</text><text x="21" y="378.6">7</text><text x="21" y="430.6">8</text><text x="21" y="482.6">9</text><text x="21" y="534.6">10</text><text x="21" y="586.6">11</text><text x="21" y="638.6">12</text><text x="21" y="690.6">13</text><text x="21" y="742.6">14</text><text x="21" y="794.6">15</text><text x="21" y="846.6">16</text><text x="21" y="898.6">17</text><text x="21" y="950.6">18</text><text x="21" y="1002.6">19</text><text x="21" y="1054.6">20</text><text x="21" y="1106.6">21</text><text x="21" y="1158.6">22</text><text x="21" y="1210.6">23</text><text x="21" y="1262.6">24</text><text x="21" y="1314.6">25</text><text x="21" y="1366.6">26</text><text x="21" y="1418.6">27</text><text x="21" y="1470.6">28</text><text x="21" y="1522.6">29</text><text x="21" y="1574.6">30</text><text x="21" y="1626.6">31</text><text x="21" y="1678.6">32</text><text x="21" y="1730.6">33</text><text x="21" y="1782.6">34</text><text x="21" y="1834.6">35</text><text x="21" y="1886.6">36</text><text x="21" y="1938.6">37</text><text x="21" y="1990.6">38</text><text x="21" y="2042.6">39</text><text x="21" y="2094.6">40</text><text x="21" y="2146.6">41</text><text x="21" y="2198.6">42</text><text x="21" y="2250.6">43</text><text x="21" y="2302.6">44</text><text x="21" y="2354.6">45</text><text x="21" y="2406.6">46</text><text x="21" y="2458.6">47</text><text x="21" y="2510.6">48</text><text x="21" y="2562.6">49</text><text x="21" y="2614.6">50</text><text x="21" y="2666.6">51</text><text x="21" y="2718.6">52</text>
</g>
<g text-anchor="start">
<text x="502" y="66.6">1</text><text x="502" y="118.6">2</text><text x="502" y="170.6">3</text><text x="502" y="222.6">4</text><text x="502" y="274.6">5</text><text x="502" y="326.6">6</text><text x="502" y="378.6">7</text><text x="502" y="430.6">8</text><text x="502" y="482.6">9</text><text x="498" y="534.6">10</text><text x="498" y="586.6">11</text><text x="498" y="638.6">12</text><text x="498" y="690.6">13</text><text x="498" y="742.6">14</text><text x="498" y="794.6">15</text><text x="498" y="846.6">16</text><text x="498" y="898.6">17</text><text x="498" y="950.6">18</text><text x="498" y="1002.6">19</text><text x="498" y="1054.6">20</text><text x="498" y="1106.6">21</text><text x="498" y="1158.6">22</text><text x="498" y="1210.6">23</text><text x="498" y="1262.6">24</text><text x="498" y="1314.6">25</text><text x="498" y="1366.6">26</text><text x="498" y="1418.6">27</text><text x="498" y="1470.6">28</text><text x="498" y="1522.6">29</text><text x="498" y="1574.6">30</text><text x="498" y="1626.6">31</text><text x="498" y="1678.6">32</text><text x="498" y="1730.6">33</text><text x="498" y="1782.6">34</text><text x="498" y="1834.6">35</text><text x="498" y="1886.6">36</text><text x="498" y="1938.6">37</text><text x="498" y="1990.6">38</text><text x="498" y="2042.6">39</text><text x="498" y="2094.6">40</text><text x="498" y="2146.6">41</text><text x="498" y="2198.6">42</text><text x="498" y="2250.6">43</text><text x="498" y="2302.6">44</text><text x="498" y="2354.6">45</text><text x="498" y="2406.6">46</text><text x="498" y="2458.6">47</text><text x="498" y="2510.6">48</text><text x="498" y="2562.6">49</text><text x="498" y="2614.6">50</text><text x="498" y="2666.6">51</text><text x="498" y="2718.6">52</text>
</g>
</g>

<text class="wm" x="261" y="1392" text-anchor="middle">BRACELETBOOK.COM</text>
</svg>
